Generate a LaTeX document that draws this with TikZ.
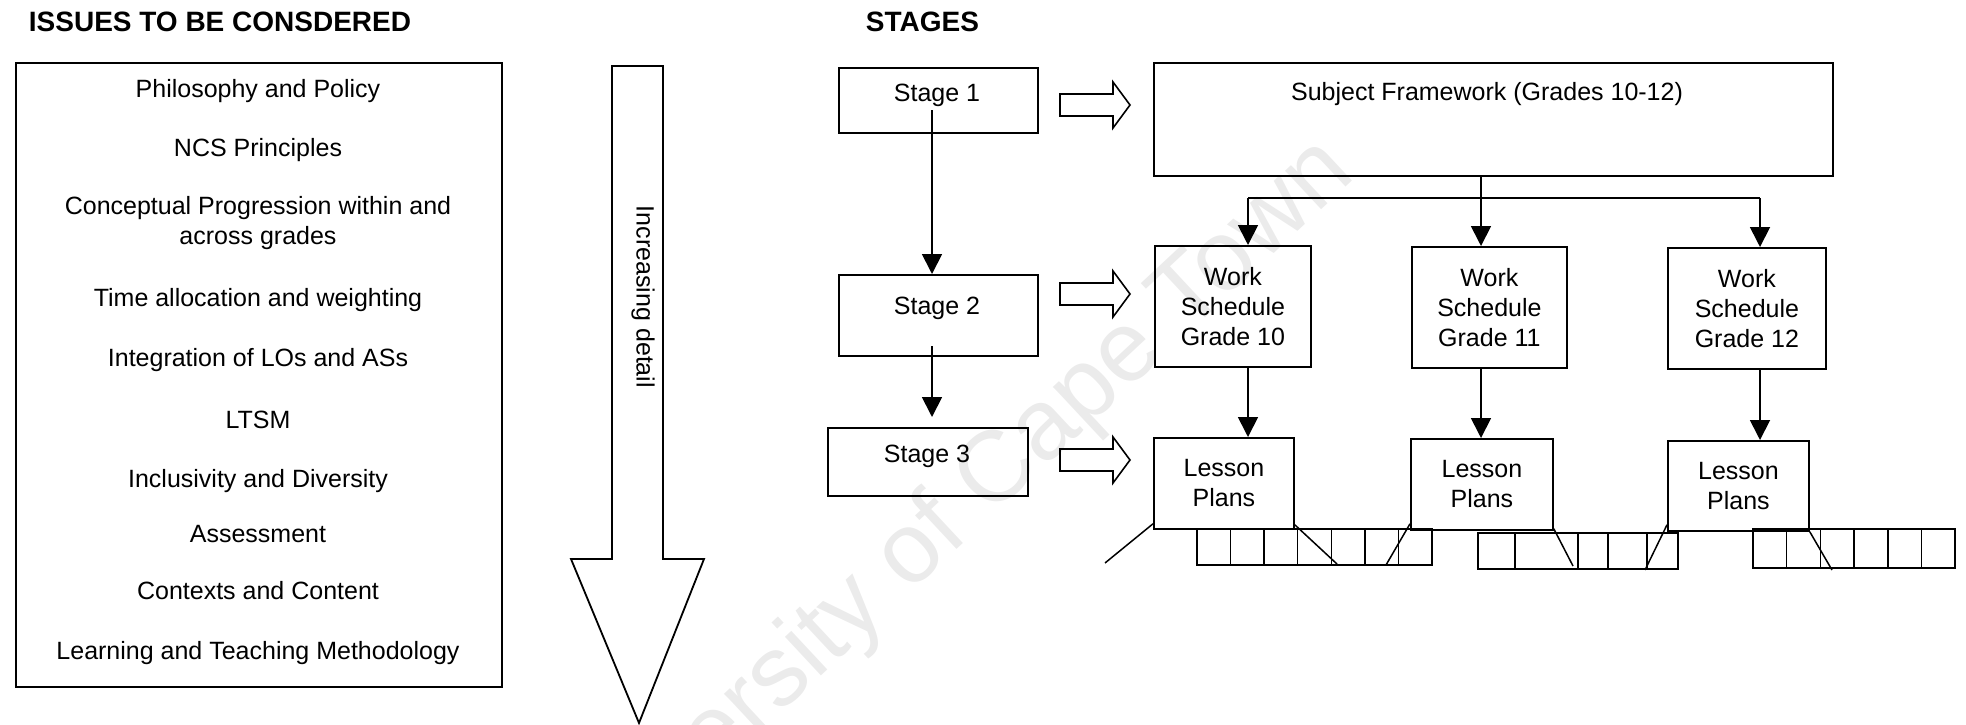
\documentclass[tikz,border=0pt]{standalone}
\usepackage{fontspec}
\setmainfont{Liberation Sans}
\usetikzlibrary{arrows.meta,calc}

\begin{document}
\begin{tikzpicture}[x=1pt,y=-1pt,line width=1.8pt,line join=miter,
  txt/.style={font=\fontsize{25}{30}\selectfont,inner sep=0pt},
  heading/.style={font=\fontsize{28}{32}\selectfont\bfseries,inner sep=0pt,anchor=base west},
  item/.style={txt,anchor=base},
  framebox/.style={draw,line width=1.8pt,inner sep=0pt,anchor=north west},
  textbox/.style={draw,line width=1.8pt,inner sep=0pt,anchor=north west,align=center,
    font=\fontsize{25}{30}\selectfont},
  flow/.style={-{Triangle[length=20pt,width=20pt]},line width=1.8pt},
  hollow/.pic={\draw[line width=1.6pt] (0,-11) -- (53,-11) -- (53,-23) -- (70,0)
     -- (53,23) -- (53,11) -- (0,11) -- cycle;}
]
\path[use as bounding box] (0,0) rectangle (1966,725);
\clip (0,0) rectangle (1966,725);

% faint watermark behind everything
\node[font=\fontsize{100}{100}\selectfont,text=black!8,rotate=43,inner sep=0pt]
  (wm) at (945,525) {University of Cape Town};

% headings
\node[heading] (hissues) at (28,32) {ISSUES TO BE CONSDERED};
\node[heading] (hstages) at (865,32) {STAGES};

% issues list
\node[framebox,minimum width=486pt,minimum height=624pt] (issues) at (15,62) {};
\node[item] (i1) at (258,98) {Philosophy and Policy};
\node[item] (i2) at (258,156) {NCS Principles};
\node[item] (i3a) at (258,214) {Conceptual Progression within and};
\node[item] (i3b) at (258,244) {across grades};
\node[item] (i4) at (258,306) {Time allocation and weighting};
\node[item] (i5) at (258,366) {Integration of LOs and ASs};
\node[item] (i6) at (258,428) {LTSM};
\node[item] (i7) at (258,487) {Inclusivity and Diversity};
\node[item] (i8) at (258,542) {Assessment};
\node[item] (i9) at (258,599) {Contexts and Content};
\node[item] (i10) at (258,659) {Learning and Teaching Methodology};

% big downward arrow
\draw[line width=1.8pt] (612,66) -- (663,66) -- (663,559) -- (704,559) -- (639,723)
  -- (571,559) -- (612,559) -- cycle;
\node[txt,rotate=-90] (detail) at (643,297) {Increasing detail};

% stages
\node[framebox,minimum width=199pt,minimum height=65pt] (s1) at (838,67) {};
\node[item] (s1t) at (937,102) {Stage 1};
\node[framebox,minimum width=199pt,minimum height=81pt] (s2) at (838,274) {};
\node[item] (s2t) at (937,314) {Stage 2};
\node[framebox,minimum width=200pt,minimum height=68pt] (s3) at (827,427) {};
\node[item] (s3t) at (927,462) {Stage 3};

\coordinate (s1a) at (932,110);
\coordinate (s2a) at (932,346);
\coordinate (s3a) at (932,417);
\draw[flow] (s1a) -- (s1a |- s2.north);
\draw[flow] (s2a) -- (s3a);

\pic at (1060,105) {hollow};
\pic at (1060,294) {hollow};
\pic at (1060,460) {hollow};

% framework
\node[framebox,minimum width=679pt,minimum height=113pt] (sf) at (1153,62) {};
\node[item] (sft) at (1487,100) {Subject Framework (Grades 10-12)};

% work schedules
\node[textbox,minimum width=156pt,minimum height=121pt] (ws10) at (1154,245) {Work\\Schedule\\Grade 10};
\node[textbox,minimum width=155pt,minimum height=121pt] (ws11) at (1411,246) {Work\\Schedule\\Grade 11};
\node[textbox,minimum width=158pt,minimum height=121pt] (ws12) at (1667,247) {Work\\Schedule\\Grade 12};

\coordinate (bar) at (1481,198);
\draw[flow] (sf.south -| bar) -- (bar |- ws11.north);
\draw (1248,198) -- (1760,198);
\draw[flow] (1248,198) -- (1248,245);
\draw[flow] (1760,198) -- (1760,247);

% lesson plans
\node[textbox,minimum width=140pt,minimum height=91pt] (lp10) at (1153,437) {Lesson\\Plans};
\node[textbox,minimum width=142pt,minimum height=91pt] (lp11) at (1410,438) {Lesson\\Plans};
\node[textbox,minimum width=141pt,minimum height=90pt] (lp12) at (1667,440) {Lesson\\Plans};

\draw[flow] (1248,366) -- (1248,437);
\draw[flow] (1481,367) -- (1481,438);
\draw[flow] (1760,368) -- (1760,440);

% lesson cells
\begin{scope}[line width=1.5pt]
\foreach \i in {0,...,6} {
  \draw (1197+\i*33.57,529) rectangle ++(33.57,36);
}
\draw (1478,533) rectangle (1678,569);
\foreach \xx in {1515,1578,1608,1647} { \draw (\xx,533) -- (\xx,569); }
\foreach \i in {0,...,5} {
  \draw (1753+\i*33.7,529) rectangle ++(33.7,39);
}
% lines fanning out from the lesson plans
\coordinate (f1) at (1105,563);
\coordinate (f2) at (1337,564);
\coordinate (f3) at (1386,565);
\coordinate (f4) at (1573,566);
\coordinate (f5) at (1645,570);
\coordinate (f6) at (1832,570);
\draw ($(lp10.south west)+(0,-6)$) -- (f1);
\draw ($(lp10.south east)+(0,-5)$) -- (f2);
\draw ($(lp11.south west)+(0,-7)$) -- (f3);
\draw ($(lp11.south east)+(0,-2)$) -- (f4);
\draw ($(lp12.south west)+(0,-7)$) -- (f5);
\draw (lp12.south east) -- (f6);
\end{scope}
\end{tikzpicture}
\end{document}
